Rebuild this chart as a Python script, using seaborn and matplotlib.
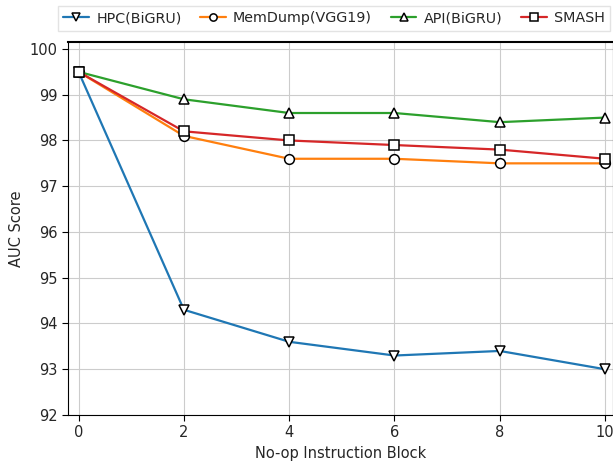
import pandas as pd
import matplotlib
matplotlib.use("Agg")
import matplotlib.pyplot as plt
import seaborn as sns

blocks = [0, 2, 4, 6, 8, 10]
hpc = [99.5, 94.3, 93.6, 93.3, 93.4, 93.0]
memdump = [99.5, 98.1, 97.6, 97.6, 97.5, 97.5]
api = [99.5, 98.9, 98.6, 98.6, 98.4, 98.5]
smash = [99.5, 98.2, 98.0, 97.9, 97.8, 97.6]

series = {
    "HPC(BiGRU)": (hpc, "#1f77b4", "v"),
    "MemDump(VGG19)": (memdump, "#ff7f0e", "o"),
    "API(BiGRU)": (api, "#2ca02c", "^"),
    "SMASH": (smash, "#d62728", "s"),
}


def main():
    sns.set_style("whitegrid", {"axes.edgecolor": "black", "grid.color": "#cccccc",
                                "xtick.bottom": True, "ytick.left": True})
    fig = plt.figure(figsize=(6.13, 4.65), dpi=100)
    ax = fig.add_axes([0.111, 0.1075, 0.889, 0.802])

    for name, (vals, color, marker) in series.items():
        df = pd.DataFrame({"block": blocks, "auc": vals})
        sns.lineplot(data=df, x="block", y="auc", ax=ax, color=color, marker=marker,
                     markersize=7, markerfacecolor="white", markeredgecolor="black",
                     markeredgewidth=1.1, linewidth=1.6, label=name, legend=False)

    ax.set_xlim(-0.2, 10.15)
    ax.set_ylim(92, 100.15)
    ax.set_xticks(blocks)
    ax.set_yticks(range(92, 101))
    ax.tick_params(labelsize=10.5, length=4, color="black")
    ax.set_xlabel("No-op Instruction Block", fontsize=10.5)
    ax.set_ylabel("AUC Score", fontsize=10.5)
    ax.spines["top"].set_linewidth(1.5)

    handles, labels = ax.get_legend_handles_labels()
    fig.legend(handles, labels, ncol=4, loc="upper left", bbox_to_anchor=(0.094, 0.988),
               borderaxespad=0, fontsize=10.3, frameon=True, handlelength=1.8,
               columnspacing=1.3, handletextpad=0.5, fancybox=False,
               edgecolor="#dddddd", markerscale=0.75)

    fig.savefig("out.png", dpi=100)


if '__main__' == __name__:
    main()
